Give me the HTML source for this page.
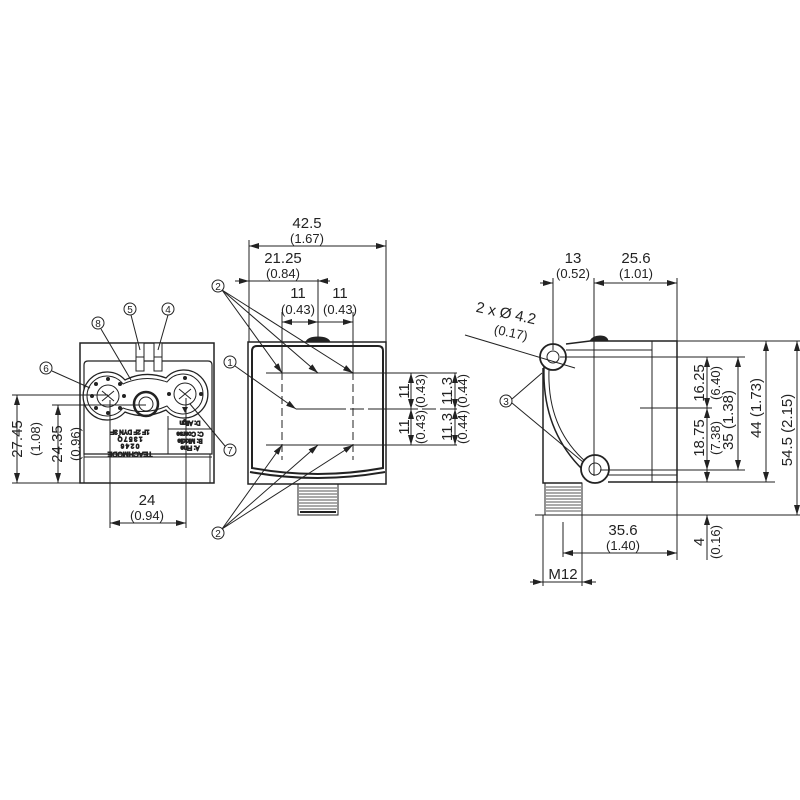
<!DOCTYPE html>
<html><head><meta charset="utf-8"><style>
html,body{margin:0;padding:0;background:#fff}
svg{display:block}
text{font-family:"Liberation Sans",sans-serif;fill:#222}
.t{font-size:15px}
.s{font-size:13px}
</style></head><body>
<svg width="800" height="800" viewBox="0 0 800 800" xmlns="http://www.w3.org/2000/svg">
<defs>
<marker id="a" markerWidth="10" markerHeight="6" refX="10" refY="3" orient="auto-start-reverse" markerUnits="userSpaceOnUse"><path d="M0,0 L10,3 L0,6 z" fill="#222"/></marker>
</defs>
<g stroke="#222" fill="none" stroke-width="1">

<!-- ============ LEFT VIEW ============ -->
<rect x="80" y="343" width="134" height="140" stroke-width="1.5"/>
<path d="M84,365 Q84,361 88,361 L208,361 Q212,361 212,365 L212,454 L84,454 Z" stroke-width="1.2"/>
<line x1="84" y1="457" x2="212" y2="457"/>
<line x1="84" y1="454" x2="84" y2="483"/>
<line x1="210" y1="454" x2="210" y2="483"/>
<rect x="136" y="343" width="8" height="28" fill="#fff"/>
<rect x="154" y="343" width="8" height="28" fill="#fff"/>
<line x1="136" y1="357" x2="144" y2="357"/>
<line x1="154" y1="357" x2="162" y2="357"/>
<path d="M125,380 A24,24 0 1,0 125,412 Q145,420 166,410 A24,24 0 1,0 166,378 Q145,370 125,380 Z" stroke-width="1.3" fill="#fff"/>
<path d="M123,384 A20,20 0 1,0 123,408 Q145,416 167,406 A20,20 0 1,0 167,382 Q145,374 123,384 Z"/>
<circle cx="108" cy="396" r="11"/>
<circle cx="185" cy="394" r="11"/>
<circle cx="146" cy="404" r="12" stroke-width="2.5"/>
<circle cx="146" cy="404" r="7"/>
<path d="M102,391 L114,401 M114,391 L102,401 M179,389 L191,399 M191,389 L179,399"/>
<g fill="#222" stroke="none">
<circle cx="108" cy="379" r="2"/><circle cx="96" cy="384" r="2"/><circle cx="120" cy="384" r="2"/>
<circle cx="92" cy="396" r="2"/><circle cx="124" cy="396" r="2"/><circle cx="96" cy="408" r="2"/>
<circle cx="108" cy="413" r="2"/><circle cx="120" cy="408" r="2"/>
<circle cx="185" cy="378" r="2"/><circle cx="169" cy="394" r="2"/><circle cx="201" cy="394" r="2"/>
<path d="M182,407 L188,407 L185,413 z"/>
</g>
<line x1="168" y1="416" x2="168" y2="454"/>
<line x1="168" y1="429" x2="212" y2="429"/>
<text x="130" y="436" style="font-size:6px" text-anchor="middle" transform="rotate(180 130 433)">1F 2F DYN 3F</text>
<text x="130" y="443" style="font-size:6px" text-anchor="middle" transform="rotate(180 130 440)">1 3 5 7 Q</text>
<text x="130" y="450" style="font-size:6px" text-anchor="middle" transform="rotate(180 130 447)">0 2 4 6</text>
<text x="190" y="425" style="font-size:6px" text-anchor="middle" transform="rotate(180 190 423)">D: Align</text>
<text x="190" y="436" style="font-size:6px" text-anchor="middle" transform="rotate(180 190 434)">C: Coarse</text>
<text x="190" y="443" style="font-size:6px" text-anchor="middle" transform="rotate(180 190 441)">B: Middle</text>
<text x="190" y="450" style="font-size:6px" text-anchor="middle" transform="rotate(180 190 448)">A: Fine</text>
<text x="130" y="458" style="font-size:7px" text-anchor="middle" transform="rotate(180 130 455)">TEACHMODE</text>
<circle cx="130" cy="309" r="6"/><circle cx="168" cy="309" r="6"/><circle cx="98" cy="323" r="6"/>
<circle cx="46" cy="368" r="6"/><circle cx="230" cy="450" r="6"/>
<line x1="131" y1="315" x2="140" y2="350"/>
<line x1="168" y1="315" x2="158" y2="350"/>
<line x1="101" y1="329" x2="131" y2="380"/>
<line x1="52" y1="371" x2="90" y2="388"/>
<line x1="225" y1="446" x2="190" y2="404"/>
<line x1="12" y1="395" x2="108" y2="395"/>
<line x1="52" y1="405" x2="146" y2="405"/>
<line x1="12" y1="483" x2="80" y2="483"/>
<line x1="17" y1="395" x2="17" y2="483" marker-start="url(#a)" marker-end="url(#a)"/>
<line x1="58" y1="405" x2="58" y2="483" marker-start="url(#a)" marker-end="url(#a)"/>
<line x1="110" y1="400" x2="110" y2="528"/>
<line x1="186" y1="398" x2="186" y2="528"/>
<line x1="110" y1="523" x2="186" y2="523" marker-start="url(#a)" marker-end="url(#a)"/>

<!-- ============ MIDDLE VIEW ============ -->
<rect x="248" y="342" width="138" height="142" stroke-width="1.5"/>
<path d="M257,346 L378,346 Q383,346 383,351 L383,468 Q318,480 252,468 L252,351 Q252,346 257,346 Z" stroke-width="2"/>
<path d="M250,472 Q318,484 385,472" stroke-width="2"/>
<path d="M306,342 Q308,337 318,337 Q328,337 330,342" fill="#222"/>
<rect x="298" y="484" width="40" height="31"/>
<g stroke="#555">
<path d="M299,488H337M299,491H337M299,494H337M299,497H337M299,500H337M299,503H337M299,506H337M299,509H337"/>
</g>
<line x1="300" y1="512" x2="336" y2="512" stroke-width="2"/>
<line x1="266" y1="373" x2="413" y2="373"/>
<line x1="296" y1="409" x2="457" y2="409" stroke-dasharray="50,4,14,4"/>
<line x1="266" y1="445" x2="413" y2="445"/>
<line x1="386" y1="373" x2="457" y2="373"/>
<line x1="386" y1="445" x2="457" y2="445"/>
<line x1="282" y1="312" x2="282" y2="460" stroke-dasharray="8,4"/>
<line x1="353" y1="312" x2="353" y2="460" stroke-dasharray="8,4"/>
<line x1="282" y1="312" x2="282" y2="373"/>
<line x1="353" y1="312" x2="353" y2="373"/>
<line x1="249" y1="240" x2="249" y2="342"/>
<line x1="386" y1="240" x2="386" y2="342"/>
<line x1="249" y1="246" x2="386" y2="246" marker-start="url(#a)" marker-end="url(#a)"/>
<line x1="235" y1="281" x2="330" y2="281"/>
<line x1="240" y1="281" x2="249" y2="281" marker-end="url(#a)"/>
<line x1="318" y1="281" x2="328" y2="281" marker-start="url(#a)"/>
<line x1="318" y1="279" x2="318" y2="342"/>
<line x1="282" y1="322" x2="318" y2="322" marker-start="url(#a)" marker-end="url(#a)"/>
<line x1="318" y1="322" x2="353" y2="322" marker-end="url(#a)"/>
<line x1="411" y1="373" x2="411" y2="409" marker-start="url(#a)" marker-end="url(#a)"/>
<line x1="411" y1="409" x2="411" y2="445" marker-start="url(#a)" marker-end="url(#a)"/>
<line x1="455" y1="373" x2="455" y2="409" marker-start="url(#a)" marker-end="url(#a)"/>
<line x1="455" y1="409" x2="455" y2="445" marker-start="url(#a)" marker-end="url(#a)"/>
<circle cx="218" cy="286" r="6"/><circle cx="230" cy="362" r="6"/><circle cx="218" cy="533" r="6"/>
<line x1="222" y1="290" x2="282" y2="373" marker-end="url(#a)"/>
<line x1="222" y1="290" x2="318" y2="373" marker-end="url(#a)"/>
<line x1="222" y1="290" x2="353" y2="373" marker-end="url(#a)"/>
<line x1="235" y1="366" x2="296" y2="409" marker-end="url(#a)"/>
<line x1="222" y1="529" x2="282" y2="445" marker-end="url(#a)"/>
<line x1="222" y1="529" x2="318" y2="445" marker-end="url(#a)"/>
<line x1="222" y1="529" x2="353" y2="445" marker-end="url(#a)"/>

<!-- ============ RIGHT VIEW ============ -->
<path d="M566,344 L590,341 L677,341 L677,482 L608,482" stroke-width="1.5"/>
<line x1="566" y1="350" x2="652" y2="350"/>
<line x1="652" y1="341" x2="652" y2="482"/>
<line x1="605" y1="475" x2="677" y2="475"/>
<path d="M590,341 Q593,336 600,336 Q607,336 608,341" fill="#222"/>
<path d="M543,368 L543,483 L582,483" stroke-width="1.5"/>
<path d="M544,367 Q542,430 583,470" stroke-width="1.5"/>
<path d="M549,370 Q547,428 586,462"/>
<circle cx="553" cy="357" r="13" stroke-width="1.8" fill="#fff"/>
<circle cx="553" cy="357" r="6"/>
<circle cx="595" cy="469" r="14" stroke-width="1.8" fill="#fff"/>
<circle cx="595" cy="469" r="6"/>
<rect x="545" y="483" width="37" height="32"/>
<g stroke="#555"><path d="M546,487H581M546,490H581M546,493H581M546,496H581M546,499H581M546,502H581M546,505H581M546,508H581M546,511H581"/></g>
<line x1="553" y1="278" x2="553" y2="350"/>
<line x1="594" y1="278" x2="594" y2="476"/>
<line x1="677" y1="278" x2="677" y2="560"/>
<line x1="540" y1="283" x2="553" y2="283" marker-end="url(#a)"/>
<line x1="594" y1="283" x2="604" y2="283" marker-start="url(#a)"/>
<line x1="604" y1="283" x2="677" y2="283" marker-end="url(#a)"/>
<line x1="560" y1="357" x2="745" y2="357"/>
<line x1="600" y1="470" x2="745" y2="470"/>
<line x1="640" y1="408" x2="712" y2="408"/>
<line x1="677" y1="341" x2="800" y2="341"/>
<line x1="677" y1="482" x2="775" y2="482"/>
<line x1="535" y1="515" x2="800" y2="515"/>
<line x1="707" y1="357" x2="707" y2="408" marker-start="url(#a)" marker-end="url(#a)"/>
<line x1="707" y1="408" x2="707" y2="470" marker-start="url(#a)" marker-end="url(#a)"/>
<line x1="738" y1="357" x2="738" y2="470" marker-start="url(#a)" marker-end="url(#a)"/>
<line x1="766" y1="341" x2="766" y2="482" marker-start="url(#a)" marker-end="url(#a)"/>
<line x1="797" y1="341" x2="797" y2="515" marker-start="url(#a)" marker-end="url(#a)"/>
<line x1="707" y1="470" x2="707" y2="482" marker-end="url(#a)"/>
<line x1="707" y1="515" x2="707" y2="560" marker-start="url(#a)"/>
<line x1="563" y1="522" x2="563" y2="557"/>
<line x1="563" y1="553" x2="677" y2="553" marker-start="url(#a)" marker-end="url(#a)"/>
<line x1="543" y1="515" x2="543" y2="586"/>
<line x1="582" y1="515" x2="582" y2="586"/>
<line x1="530" y1="582" x2="543" y2="582" marker-end="url(#a)"/>
<line x1="582" y1="582" x2="596" y2="582" marker-start="url(#a)"/>
<line x1="543" y1="582" x2="582" y2="582"/>
<line x1="465" y1="335" x2="575" y2="368"/>
<circle cx="506" cy="401" r="6"/>
<line x1="512" y1="399" x2="542" y2="373"/>
<line x1="512" y1="403" x2="583" y2="462"/>
</g>

<g text-anchor="middle">
<text x="22" y="439" transform="rotate(-90 22 439)" class="t">27.45</text>
<text x="40" y="439" transform="rotate(-90 40 439)" class="s">(1.08)</text>
<text x="62" y="444" transform="rotate(-90 62 444)" class="t">24.35</text>
<text x="80" y="444" transform="rotate(-90 80 444)" class="s">(0.96)</text>
<text x="147" y="505" class="t">24</text>
<text x="147" y="520" class="s">(0.94)</text>
<text x="130" y="313" style="font-size:10px">5</text>
<text x="168" y="313" style="font-size:10px">4</text>
<text x="98" y="327" style="font-size:10px">8</text>
<text x="46" y="372" style="font-size:10px">6</text>
<text x="230" y="454" style="font-size:10px">7</text>
<text x="218" y="290" style="font-size:10px">2</text>
<text x="230" y="366" style="font-size:10px">1</text>
<text x="218" y="537" style="font-size:10px">2</text>
<text x="506" y="405" style="font-size:10px">3</text>

<text x="307" y="228" class="t">42.5</text>
<text x="307" y="243" class="s">(1.67)</text>
<text x="283" y="263" class="t">21.25</text>
<text x="283" y="278" class="s">(0.84)</text>
<text x="298" y="298" class="t">11</text>
<text x="298" y="314" class="s">(0.43)</text>
<text x="340" y="298" class="t">11</text>
<text x="340" y="314" class="s">(0.43)</text>
<text x="409" y="391" transform="rotate(-90 409 391)" class="t">11</text>
<text x="425" y="391" transform="rotate(-90 425 391)" class="s">(0.43)</text>
<text x="409" y="427" transform="rotate(-90 409 427)" class="t">11</text>
<text x="425" y="427" transform="rotate(-90 425 427)" class="s">(0.43)</text>
<text x="452" y="391" transform="rotate(-90 452 391)" class="t">11.3</text>
<text x="467" y="391" transform="rotate(-90 467 391)" class="s">(0.44)</text>
<text x="452" y="427" transform="rotate(-90 452 427)" class="t">11.3</text>
<text x="467" y="427" transform="rotate(-90 467 427)" class="s">(0.44)</text>

<text x="573" y="263" class="t">13</text>
<text x="573" y="278" class="s">(0.52)</text>
<text x="636" y="263" class="t">25.6</text>
<text x="636" y="278" class="s">(1.01)</text>
<text x="505" y="318" class="t" transform="rotate(12 505 318)">2 x Ø 4.2</text>
<text x="510" y="337" class="s" transform="rotate(12 510 337)">(0.17)</text>
<text x="704" y="383" transform="rotate(-90 704 383)" class="t">16.25</text>
<text x="720" y="383" transform="rotate(-90 720 383)" class="s">(6.40)</text>
<text x="704" y="438" transform="rotate(-90 704 438)" class="t">18.75</text>
<text x="720" y="438" transform="rotate(-90 720 438)" class="s">(7.38)</text>
<text x="733" y="420" transform="rotate(-90 733 420)" class="t">35 (1.38)</text>
<text x="761" y="408" transform="rotate(-90 761 408)" class="t">44 (1.73)</text>
<text x="792" y="430" transform="rotate(-90 792 430)" class="t">54.5 (2.15)</text>
<text x="704" y="542" transform="rotate(-90 704 542)" class="t">4</text>
<text x="720" y="542" transform="rotate(-90 720 542)" class="s">(0.16)</text>
<text x="623" y="535" class="t">35.6</text>
<text x="623" y="550" class="s">(1.40)</text>
<text x="563" y="579" class="t">M12</text>
</g>
</svg>
</body></html>
